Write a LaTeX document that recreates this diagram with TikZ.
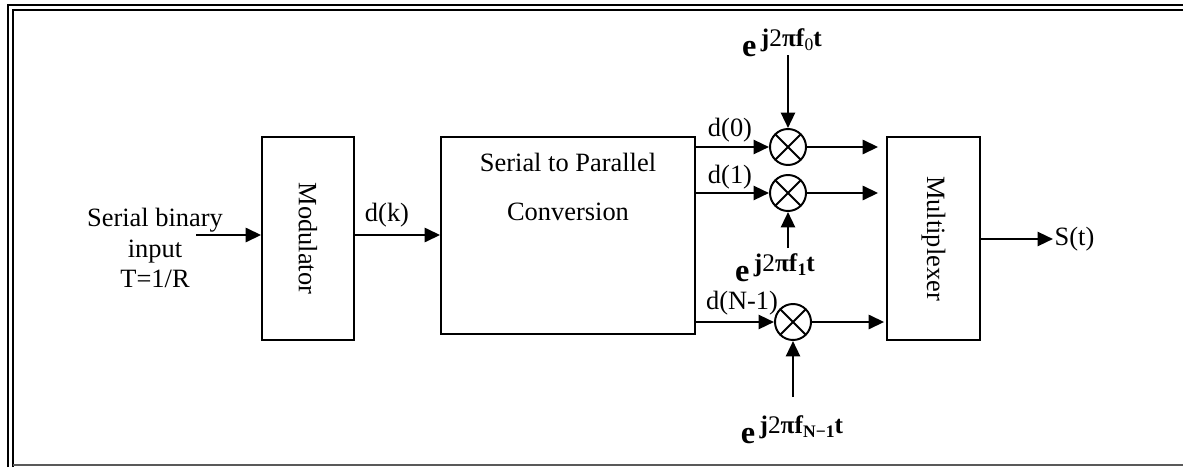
\documentclass[tikz,border=0pt]{standalone}
\usepackage{fontspec}
\setmainfont{Liberation Serif}
\usetikzlibrary{arrows.meta,positioning}
\newcommand{\expterm}[1]{{\fontsize{23}{23}\selectfont\textbf{e}}\,\raisebox{7pt}{\fontsize{18}{18}\selectfont\textbf{j}2\textbf{πf}\raisebox{-2.5pt}{\fontsize{12.5}{12.5}\selectfont#1}\textbf{t}}}
\tikzset{
  blk/.style={draw, line width=1.2pt, inner sep=0pt,
              font=\fontsize{18.8}{22}\selectfont},
  mixer/.style={draw, circle, line width=1.4pt, minimum size=0.9cm, inner sep=0pt,
                path picture={\draw[line width=1.4pt]
                  (path picture bounding box.north west) -- (path picture bounding box.south east)
                  (path picture bounding box.north east) -- (path picture bounding box.south west);}},
  lbl/.style={font=\fontsize{18.8}{21.5}\selectfont, inner sep=1pt, align=center},
  flow/.style={-{Stealth[length=11pt, width=10pt, inset=0pt]}, line width=1.8pt},
}

\begin{document}
\begin{tikzpicture}[x=0.025cm, y=-0.025cm]
\useasboundingbox (0,0) rectangle (1183,467);

% --- Frame ---
\draw[line width=2pt] (8,467) -- (8,5) -- (1183,5);
\draw[line width=1.3pt] (13,467) -- (13,10) -- (1183,10);
\draw[gray!70!black, line width=1.4pt] (13,465) -- (1183,465);

% --- Blocks ---
\node[blk, minimum width=2.3cm, minimum height=5.075cm] (mod) at (308,238.5) {};
\node[lbl, rotate=-90] (modtxt) at (mod) {Modulator};
\node[blk, minimum width=6.35cm, minimum height=4.925cm] (sp) at (568,235.5) {};
\node[font=\fontsize{18.8}{35}\selectfont, align=center] (sptxt) at (568,187)
      {Serial to Parallel\\Conversion};
\node[blk, minimum width=2.325cm, minimum height=5.075cm] (mux) at (933.5,238.5) {};
\node[lbl, rotate=-90] (muxtxt) at (mux) {Multiplexer};

% --- Input ---
\node[lbl] (intxt) at (155,248) {Serial binary\\input\\T=1/R};
\coordinate (inpt) at (196,235);
\draw[flow] (inpt) -- (inpt -| mod.west);
\draw[flow] (mod.east |- inpt) -- (sp.west |- inpt);
\node[lbl] (dk) at (387,215) {d(k)};

% --- Mixers ---
\node[mixer] (mix0) at (788,147) {};
\node[mixer] (mix1) at (788,193) {};
\node[mixer] (mix2) at (793,322) {};

\draw[flow] (sp.east |- mix0) -- (mix0);
\draw[flow] (sp.east |- mix1) -- (mix1);
\draw[flow] (sp.east |- mix2) -- (mix2);
\node[lbl] (d0) at (730,130) {d(0)};
\node[lbl] (d1) at (730,177) {d(1)};
\node[lbl] (dN) at (742,303) {d(N-1)};

\draw[flow, shorten >=0.2cm] (mix0) -- (mix0 -| mux.west);
\draw[flow, shorten >=0.2cm] (mix1) -- (mix1 -| mux.west);
\draw[flow, shorten >=0.05cm] (mix2) -- (mix2 -| mux.west);

% --- Carriers ---
\node[lbl] (e0) at (782,43) {\expterm{0}};
\node[lbl] (e1) at (775,268) {\expterm{\textbf{1}}};
\node[lbl] (e2) at (792,430) {\expterm{\textbf{N−1}}};
\coordinate (c0) at (788,55);
\coordinate (c1) at (788,248);
\coordinate (c2) at (793,397);
\draw[flow] (c0) -- (mix0);
\draw[flow] (c1) -- (mix1);
\draw[flow] (c2) -- (mix2);

% --- Output ---
\node[lbl, anchor=west] (st) at (1053,239) {S(t)};
\draw[flow] (mux.east |- st) -- (st.west);

\end{tikzpicture}
\end{document}
